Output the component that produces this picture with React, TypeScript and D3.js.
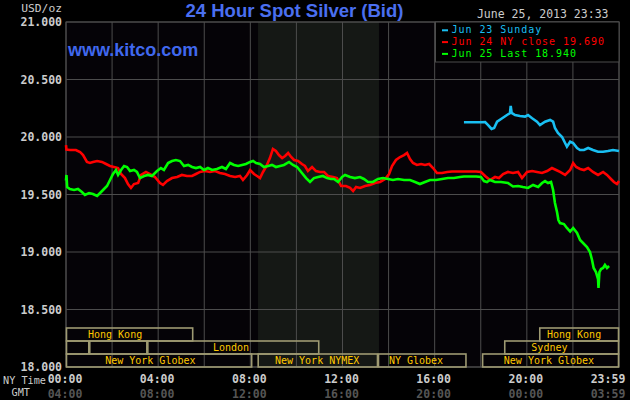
import React from "react";
import * as d3 from "d3";

// ---- data ----
const jun23Sunday: [number, number][] = [
  [17.27, 20.128], [18.01, 20.128], [18.19, 20.13], [18.32, 20.104], [18.47, 20.07], [18.58, 20.078],
  [18.71, 20.133], [18.93, 20.163], [19.14, 20.191], [19.27, 20.209], [19.3, 20.27], [19.34, 20.209],
  [19.49, 20.191], [19.7, 20.183], [19.92, 20.177], [20.05, 20.191], [20.23, 20.163], [20.44, 20.133],
  [20.57, 20.104], [20.79, 20.133], [21.01, 20.148], [21.14, 20.133], [21.22, 20.078], [21.35, 20.035],
  [21.53, 20.0], [21.66, 19.948], [21.74, 19.916], [21.88, 19.959], [22.01, 19.948], [22.18, 19.904],
  [22.31, 19.887], [22.48, 19.887], [22.66, 19.904], [22.87, 19.887], [23.09, 19.872], [23.31, 19.872],
  [23.52, 19.878], [23.74, 19.887], [24, 19.878],
];

const jun24NyClose: [number, number][] = [
  [0, 19.93], [0.02, 19.89], [0.17, 19.887], [0.43, 19.887], [0.61, 19.87], [0.74, 19.843], [0.91, 19.783],
  [1.04, 19.774], [1.17, 19.783], [1.35, 19.791], [1.56, 19.783], [1.74, 19.765], [1.91, 19.748],
  [2.08, 19.739], [2.26, 19.73], [2.39, 19.678], [2.56, 19.643], [2.69, 19.591], [2.82, 19.557],
  [2.95, 19.591], [3.13, 19.6], [3.26, 19.67], [3.47, 19.696], [3.65, 19.678], [3.86, 19.652],
  [4.08, 19.6], [4.21, 19.583], [4.38, 19.617], [4.6, 19.643], [4.82, 19.652], [5.03, 19.67],
  [5.25, 19.661], [5.47, 19.661], [5.64, 19.678], [5.82, 19.696], [6.03, 19.704], [6.25, 19.696],
  [6.47, 19.704], [6.68, 19.687], [6.9, 19.678], [7.12, 19.661], [7.34, 19.652], [7.55, 19.661],
  [7.68, 19.626], [7.86, 19.67], [7.99, 19.713], [8.16, 19.678], [8.29, 19.661], [8.42, 19.643],
  [8.55, 19.696], [8.68, 19.739], [8.85, 19.817], [8.98, 19.896], [9.11, 19.878], [9.24, 19.843],
  [9.38, 19.817], [9.51, 19.835], [9.64, 19.861], [9.77, 19.826], [9.9, 19.8], [10.07, 19.791],
  [10.24, 19.765], [10.37, 19.748], [10.5, 19.704], [10.68, 19.739], [10.85, 19.704], [11.02, 19.696],
  [11.2, 19.696], [11.37, 19.661], [11.59, 19.652], [11.76, 19.643], [11.94, 19.574], [12.15, 19.574],
  [12.33, 19.557], [12.46, 19.53], [12.59, 19.565], [12.76, 19.557], [12.98, 19.574], [13.19, 19.583],
  [13.41, 19.6], [13.63, 19.609], [13.85, 19.635], [14.02, 19.678], [14.15, 19.748], [14.32, 19.8],
  [14.5, 19.826], [14.67, 19.843], [14.8, 19.861], [14.93, 19.809], [15.06, 19.774], [15.23, 19.757],
  [15.41, 19.765], [15.58, 19.757], [15.76, 19.765], [15.93, 19.73], [16.1, 19.687], [16.32, 19.687],
  [16.54, 19.696], [16.75, 19.7], [17.01, 19.7], [17.27, 19.7], [17.53, 19.7], [17.8, 19.7],
  [18.01, 19.696], [18.19, 19.661], [18.4, 19.626], [18.62, 19.652], [18.79, 19.643], [18.97, 19.678],
  [19.18, 19.696], [19.4, 19.687], [19.62, 19.696], [19.79, 19.643], [20.01, 19.696], [20.23, 19.704],
  [20.44, 19.696], [20.66, 19.687], [20.88, 19.704], [21.09, 19.73], [21.27, 19.713], [21.44, 19.696],
  [21.66, 19.67], [21.88, 19.713], [22.01, 19.774], [22.14, 19.739], [22.31, 19.722], [22.48, 19.713],
  [22.66, 19.73], [22.87, 19.696], [23.09, 19.67], [23.31, 19.696], [23.48, 19.67], [23.65, 19.635],
  [23.78, 19.609], [23.91, 19.591], [24, 19.617],
];

const jun25Last: [number, number][] = [
  [0, 19.62], [0.02, 19.67], [0.05, 19.565], [0.17, 19.548], [0.35, 19.539], [0.52, 19.548],
  [0.69, 19.522], [0.82, 19.496], [1.0, 19.513], [1.17, 19.504], [1.35, 19.487], [1.48, 19.513],
  [1.65, 19.548], [1.78, 19.574], [1.91, 19.626], [2.04, 19.678], [2.17, 19.713], [2.26, 19.67],
  [2.39, 19.713], [2.52, 19.748], [2.65, 19.739], [2.78, 19.704], [2.95, 19.713], [3.08, 19.696],
  [3.21, 19.643], [3.39, 19.661], [3.56, 19.67], [3.73, 19.661], [3.95, 19.704], [4.12, 19.73],
  [4.25, 19.713], [4.43, 19.774], [4.6, 19.791], [4.77, 19.8], [4.95, 19.791], [5.12, 19.748],
  [5.3, 19.757], [5.47, 19.739], [5.64, 19.73], [5.82, 19.739], [5.99, 19.713], [6.16, 19.73],
  [6.34, 19.713], [6.55, 19.722], [6.77, 19.739], [6.94, 19.722], [7.12, 19.774], [7.29, 19.757],
  [7.47, 19.748], [7.64, 19.757], [7.81, 19.765], [7.99, 19.783], [8.12, 19.791], [8.25, 19.774],
  [8.42, 19.765], [8.59, 19.739], [8.77, 19.748], [8.94, 19.757], [9.11, 19.739], [9.29, 19.748],
  [9.46, 19.757], [9.68, 19.783], [9.85, 19.757], [10.03, 19.739], [10.24, 19.687], [10.42, 19.643],
  [10.59, 19.609], [10.76, 19.643], [10.94, 19.652], [11.15, 19.661], [11.33, 19.643], [11.5, 19.635],
  [11.63, 19.635], [11.81, 19.609], [11.98, 19.652], [12.11, 19.67], [12.33, 19.652], [12.54, 19.643],
  [12.76, 19.652], [12.93, 19.635], [13.11, 19.609], [13.32, 19.609], [13.54, 19.635], [13.76, 19.643],
  [13.98, 19.635], [14.19, 19.626], [14.41, 19.635], [14.67, 19.626], [14.93, 19.626], [15.15, 19.609],
  [15.36, 19.591], [15.58, 19.609], [15.8, 19.626], [16.06, 19.626], [16.32, 19.635], [16.58, 19.643],
  [16.84, 19.643], [17.1, 19.652], [17.27, 19.656], [17.53, 19.656], [17.8, 19.656], [18.01, 19.652],
  [18.14, 19.617], [18.27, 19.609], [18.4, 19.626], [18.62, 19.609], [18.88, 19.609], [19.18, 19.6],
  [19.4, 19.57], [19.62, 19.574], [19.83, 19.565], [20.05, 19.557], [20.27, 19.583], [20.49, 19.565],
  [20.66, 19.6], [20.79, 19.617], [20.92, 19.6], [21.05, 19.609], [21.14, 19.539], [21.22, 19.426],
  [21.31, 19.348], [21.37, 19.278], [21.44, 19.252], [21.61, 19.243], [21.74, 19.209], [21.88, 19.178],
  [22.01, 19.209], [22.18, 19.165], [22.31, 19.104], [22.44, 19.078], [22.61, 19.043], [22.74, 19.0],
  [22.83, 18.93], [22.9, 18.861], [23.0, 18.826], [23.09, 18.765], [23.11, 18.687], [23.15, 18.826],
  [23.22, 18.852], [23.31, 18.861], [23.39, 18.887], [23.48, 18.861], [23.57, 18.878],
];

const seriesNames = ["Jun 23 Sunday", "Jun 24 NY close 19.690", "Jun 25 Last 18.940"];
const seriesColors = ["#19bff2", "#ff0000", "#00ff00"];

const priceTicks = [18, 18.5, 19, 19.5, 20, 20.5, 21];
const priceLabels = ["18.000", "18.500", "19.000", "19.500", "20.000", "20.500", "21.000"];
const hourTicks = [0, 4, 8, 12, 16, 20, 24];
const nyTimeLabels = ["00:00", "04:00", "08:00", "12:00", "16:00", "20:00", "23:59"];
const gmtLabels = ["04:00", "08:00", "12:00", "16:00", "20:00", "00:00", "03:59"];

// market sessions: [row, start hour, end hour, label, label hour]
const sessions: [number, number, number, string, number][] = [
  [0, 0, 5.52, "Hong Kong", 2.13],
  [0, 20.54, 24, "Hong Kong", 22.05],
  [1, 0, 1.01, "", 0],
  [1, 1.01, 3.53, "", 0],
  [1, 3.53, 10.99, "London", 7.16],
  [1, 19.02, 24, "Sydney", 20.98],
  [2, 0, 8.08, "New York Globex", 3.66],
  [2, 8.32, 13.54, "New York NYMEX", 10.9],
  [2, 13.54, 17.38, "NY Globex", 15.19],
  [2, 18.06, 24, "New York Globex", 20.96],
];
const pitSession = [8.333, 13.583];

const W = 630, H = 400;
const L = 66, R = 619, T = 22, B = 367;
const MONO = "'DejaVu Sans Mono', monospace";

export default function App() {
  const x = d3.scaleLinear().domain([0, 24]).range([L, R]);
  const y = d3.scaleLinear().domain([18, 21]).range([B, T]);
  const line = d3.line<[number, number]>().x((d) => x(d[0])).y((d) => y(d[1]));
  const gridHours = d3.range(0, 25, 2);
  const rowTop = [328, 341, 354];
  const rowH = 13;
  const data = [jun23Sunday, jun24NyClose, jun25Last];

  return (
    <svg width={W} height={H} style={{ position: "fixed", left: 0, top: 0, background: "#000" }}>
      <rect x={0} y={0} width={W} height={H} fill="#000" />
      <rect x={L} y={T} width={R - L} height={B - T} fill="#050307" />
      <rect x={x(pitSession[0])} y={T} width={x(pitSession[1]) - x(pitSession[0])} height={B - T} fill="#151815" />
      {gridHours.map((h) => (
        <line key={"v" + h} x1={x(h)} x2={x(h)} y1={T} y2={B} stroke="#4c4c4c" strokeWidth={1} />
      ))}
      {priceTicks.map((p) => (
        <line key={"h" + p} x1={L} x2={R} y1={y(p)} y2={y(p)} stroke="#4c4c4c" strokeWidth={1} />
      ))}
      <rect x={L} y={T} width={R - L} height={B - T} fill="none" stroke="#4c4c4c" strokeWidth={1} />

      {/* market sessions */}
      {sessions.map(([row, s, e, label, lh], i) => (
        <g key={"s" + i}>
          <rect x={x(s) + 0.5} y={rowTop[row]} width={x(e) - x(s) - 1} height={rowH} fill="none" stroke="#9e9a72" strokeWidth={1.6} />
          {label && (
            <text x={x(lh)} y={rowTop[row] + 10.3} textAnchor="middle" fill="#ffc800" fontFamily={MONO} fontSize={10}>
              {label}
            </text>
          )}
        </g>
      ))}

      {/* series */}
      {data.map((d, i) => (
        <path key={"l" + i} d={line(d) || ""} fill="none" stroke={seriesColors[i]} strokeWidth={2.6} strokeLinejoin="miter" />
      ))}

      {/* y axis labels */}
      <text x={62} y={11.7} textAnchor="end" fill="#cccccc" fontFamily={MONO} fontSize={11.3}>USD/oz</text>
      {priceTicks.map((p, i) => (
        <text key={"yl" + p} x={62} y={y(p) + 4} textAnchor="end" fill="#cccccc" fontFamily={MONO} fontSize={11.5} fontWeight="bold">
          {priceLabels[i]}
        </text>
      ))}

      {/* x axis labels */}
      <text x={3} y={384} fill="#cccccc" fontFamily={MONO} fontSize={10.2}>NY Time</text>
      <text x={11.5} y={396} fill="#cccccc" fontFamily={MONO} fontSize={10.2}>GMT</text>
      {hourTicks.map((h, i) => (
        <g key={"xl" + h}>
          <text x={Math.min(x(h) - 1, 608)} y={382.5} textAnchor="middle" fill="#cccccc" fontFamily={MONO} fontSize={11.5} fontWeight="bold">
            {nyTimeLabels[i]}
          </text>
          <text x={Math.min(x(h) - 1, 608)} y={397.5} textAnchor="middle" fill="#555555" fontFamily={MONO} fontSize={11.5} fontWeight="bold">
            {gmtLabels[i]}
          </text>
        </g>
      ))}

      {/* titles */}
      <text x={294.5} y={17} textAnchor="middle" fill="#4a6ff0" fontFamily="'Liberation Sans', Arial, sans-serif" fontSize={18.5} fontWeight="bold">
        24 Hour Spot Silver (Bid)
      </text>
      <text x={68} y={56} fill="#4068ee" fontFamily="'Liberation Sans', Arial, sans-serif" fontSize={18} fontWeight="bold">
        www.kitco.com
      </text>
      <text x={608.5} y={18.3} textAnchor="end" fill="#cccccc" fontFamily={MONO} fontSize={11.5}>
        June 25, 2013 23:33
      </text>

      {/* legend */}
      <rect x={435.5} y={T} width={R - 435.5} height={40} fill="#000" stroke="#4c4c4c" strokeWidth={1} />
      {seriesNames.map((n, i) => (
        <g key={"lg" + i}>
          <rect x={442} y={29.3 + i * 11.8} width={6} height={2} fill={seriesColors[i]} />
          <text x={451.5} y={33.3 + i * 11.8} fill={seriesColors[i]} fontFamily={MONO} fontSize={10} letterSpacing={0.95}>
            {n}
          </text>
        </g>
      ))}
    </svg>
  );
}
